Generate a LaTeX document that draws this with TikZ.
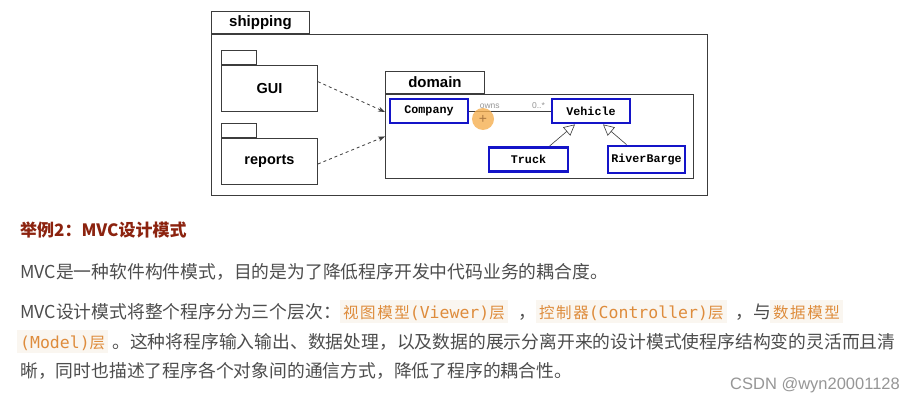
\documentclass[tikz,border=0pt]{standalone}
\usepackage{fontspec}
\usetikzlibrary{arrows.meta}
\setmainfont{Liberation Sans}
\newfontfamily\cjk{Noto Sans CJK SC}
\newfontfamily\cjkcode[LetterSpace=10]{Noto Sans CJK SC}
\newfontfamily\codemono{DejaVu Sans Mono}
\newfontfamily\classmono{Liberation Mono}
\definecolor{bodygray}{RGB}{77,77,77}
\definecolor{headred}{RGB}{140,35,15}
\definecolor{codeorange}{RGB}{222,140,60}
\definecolor{codebg}{RGB}{250,246,240}
\definecolor{umlblue}{RGB}{20,20,200}
\definecolor{linegray}{RGB}{60,60,60}
\definecolor{markgray}{RGB}{150,150,150}
\definecolor{cursororange}{RGB}{245,175,80}
\newcommand{\cjkcd}[1]{{\cjkcode\fontsize{15.5}{18}\selectfont #1}}

\begin{document}
\begin{tikzpicture}[x=1pt,y=-1pt,
	pkgbody/.style={draw=linegray, line width=0.9pt, fill=white, anchor=north west, inner sep=0},
	pkgtab/.style={draw=linegray, line width=0.9pt, fill=white, anchor=south west, inner sep=0,
		font=\bfseries\fontsize{15}{18}\selectfont},
	pkgname/.style={font=\bfseries\fontsize{14.5}{18}\selectfont},
	umlclass/.style={draw=umlblue, line width=2.8pt, fill=white, minimum height=24, inner sep=0,
		font=\classmono\bfseries\fontsize{11.7}{14}\selectfont},
	bodytext/.style={font=\cjk\fontsize{17.8}{22}\selectfont, text=bodygray, anchor=base west, inner sep=0},
	codespan/.style={font=\codemono\fontsize{16.5}{20}\selectfont, text=codeorange, fill=codebg,
		anchor=base west, inner xsep=3, inner ysep=0, text height=18, text depth=5}]
	\useasboundingbox[fill=white] (0,0) rectangle (915,401);

	% shipping package
	\node[pkgbody, minimum width=496, minimum height=161] (ship) at (211,34) {};
	\node[pkgtab, minimum width=98, minimum height=22] (shiptab) at (ship.north west) {shipping};

	% GUI and reports
	\node[pkgbody, minimum width=96, minimum height=46, pkgname] (gui) at (221,65) {GUI};
	\node[pkgtab, minimum width=35, minimum height=14] (guitab) at (gui.north west) {};
	\node[pkgbody, minimum width=96, minimum height=46, pkgname] (rep) at (221,138) {reports};
	\node[pkgtab, minimum width=35, minimum height=14] (reptab) at (rep.north west) {};

	% domain package
	\node[pkgbody, minimum width=308, minimum height=84] (dom) at (385,94) {};
	\node[pkgtab, minimum width=99, minimum height=22] (domtab) at (dom.north west) {domain};

	% classes
	\node[umlclass, minimum width=78] (co) at (429,111) {Company};
	\node[umlclass, minimum width=78] (ve) at (591,111) {Vehicle};
	\node[umlclass, minimum width=79] (tr) at (528.5,159.5) {Truck};
	\node[umlclass, minimum width=77, minimum height=27] (rb) at (646.5,159.5) {RiverBarge};

	% dependencies
	\draw[linegray, thick, dashed, -{Stealth[length=7pt,width=5pt]}] (gui.8) -- (dom.171);
	\draw[linegray, thick, dashed, -{Stealth[length=7pt,width=5pt]}] (rep.-3) -- (dom.west);

	% association and generalization
	\draw[linegray, line width=0.8pt] (co) -- node[pos=0.25, above=-1pt, font=\fontsize{8.5}{9}\selectfont, text=markgray] {owns}
		node[pos=0.85, above=-1pt, font=\fontsize{8.5}{9}\selectfont, text=markgray] {0..*} (ve);
	\draw[linegray, line width=0.6pt, -{Triangle[open,length=11pt,width=11pt]}] ([xshift=21pt]tr.north) -- ([xshift=-16pt]ve.south);
	\draw[linegray, line width=0.6pt, -{Triangle[open,length=11pt,width=11pt]}] ([xshift=-20pt]rb.north) -- ([xshift=12pt]ve.south);

	% cursor mark
	\node[circle, fill=cursororange, fill opacity=0.8, minimum size=22, inner sep=0,
		text=brown!80!black, text opacity=0.8, font=\fontsize{14}{14}\selectfont] (cursor) at (483,119) {+};

	% text block
	\node[bodytext, font=\cjk\bfseries\fontsize{17}{22}\selectfont, text=headred] (head) at (20,236.5) {举例2：MVC设计模式};
	\node[bodytext] (t2) at (20,278) {MVC是一种软件构件模式，目的是为了降低程序开发中代码业务的耦合度。};
	\node[bodytext] (t3a) at (20,318) {MVC设计模式将整个程序分为三个层次：};
	\node[codespan] (c1) at (340,318) {\cjkcd{视图模型}(Viewer)\cjkcd{层}};
	\node[bodytext] (t3b) at (518,318) {，};
	\node[codespan] (c2) at (536,318) {\cjkcd{控制器}(Controller)\cjkcd{层}};
	\node[bodytext] (t3c) at (735,318) {，与};
	\node[codespan] (c3) at (770,318) {\cjkcd{数据模型}};
	\node[codespan] (c4) at (17,348) {(Model)\cjkcd{层}};
	\node[bodytext] (t4) at (112,348) {。这种将程序输入输出、数据处理，以及数据的展示分离开来的设计模式使程序结构变的灵活而且清};
	\node[bodytext] (t5) at (20,377) {晰，同时也描述了程序各个对象间的通信方式，降低了程序的耦合性。};
	\node[anchor=base west, inner sep=0, text=markgray, font=\fontsize{16.5}{20}\selectfont] (csdn) at (730,389) {CSDN @wyn20001128};
\end{tikzpicture}
\end{document}
